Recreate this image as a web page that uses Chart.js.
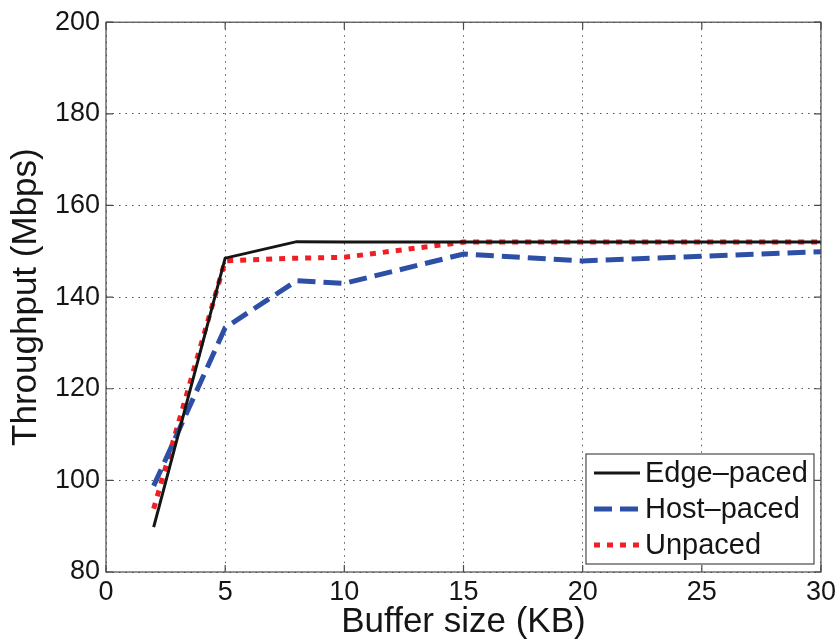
<!DOCTYPE html>
<html>
<head>
<meta charset="utf-8">
<script src="https://cdn.jsdelivr.net/npm/chart.js@4"></script>
<style>
  body { margin: 0; background: #fff; }
  #wrap { width: 840px; height: 642px; }
</style>
</head>
<body>
<div id="wrap"><canvas id="chart"></canvas></div>
<script>
// buffer sizes (KB)
const bufferSizes = [2, 5, 8, 10, 15, 20, 25, 30];
// throughput (Mbps)
const edgePaced = [89.8, 148.5, 152.1, 152, 152, 152, 152, 152];
const hostPaced = [98.8, 133.3, 143.6, 143.0, 149.4, 147.9, 148.9, 149.9];
const unpaced = [93.8, 147.9, 148.5, 148.7, 152, 152, 152, 152];

const seriesNames = ["Edge–paced", "Host–paced", "Unpaced"];
const xTicks = [0, 5, 10, 15, 20, 25, 30];
const yTicks = [80, 100, 120, 140, 160, 180, 200];

const FONT = "'Liberation Sans', Arial, Helvetica, sans-serif";

function toPoints(values) {
    return bufferSizes.map((x, i) => ({ x: x, y: values[i] }));
}

// box around the axes with inward tick marks (matlab style)
const framePlugin = {
    id: "frame",
    afterDatasetsDraw(chart) {
        const ctx = chart.ctx;
        const a = chart.chartArea;
        const xs = chart.scales.x;
        const ys = chart.scales.y;
        const len = 7;
        ctx.save();
        ctx.strokeStyle = "#4a4a4a";
        ctx.lineWidth = 1.2;
        ctx.setLineDash([]);
        ctx.strokeRect(a.left, a.top, a.right - a.left, a.bottom - a.top);
        ctx.beginPath();
        xTicks.forEach(t => {
            const px = xs.getPixelForValue(t);
            ctx.moveTo(px, a.bottom); ctx.lineTo(px, a.bottom - len);
            ctx.moveTo(px, a.top); ctx.lineTo(px, a.top + len);
        });
        yTicks.forEach(t => {
            const py = ys.getPixelForValue(t);
            ctx.moveTo(a.left, py); ctx.lineTo(a.left + len, py);
            ctx.moveTo(a.right, py); ctx.lineTo(a.right - len, py);
        });
        ctx.stroke();
        ctx.restore();
    }
};

// legend box in the lower right corner of the plot
const legendPlugin = {
    id: "boxLegend",
    afterDraw(chart) {
        const ctx = chart.ctx;
        const a = chart.chartArea;
        const w = 228, h = 110;
        const left = a.right - 7 - w;
        const top = a.bottom - 8 - h;
        ctx.save();
        ctx.fillStyle = "#fff";
        ctx.fillRect(left, top, w, h);
        ctx.strokeStyle = "#4a4a4a";
        ctx.lineWidth = 1.2;
        ctx.strokeRect(left, top, w, h);
        ctx.font = "29px " + FONT;
        ctx.textBaseline = "middle";
        ctx.fillStyle = "#151515";
        chart.data.datasets.forEach((ds, i) => {
            const y = top + 19 + i * 36;
            ctx.beginPath();
            ctx.strokeStyle = ds.borderColor;
            ctx.lineWidth = ds.borderWidth;
            ctx.setLineDash(ds.borderDash || []);
            ctx.moveTo(left + 8, y);
            ctx.lineTo(left + 54, y);
            ctx.stroke();
            ctx.setLineDash([]);
            ctx.fillText(ds.label, left + 59, y + 1);
        });
        ctx.restore();
    }
};

const ctx = document.getElementById("chart").getContext("2d");

new Chart(ctx, {
    type: "line",
    data: {
        datasets: [
            {
                label: seriesNames[0],
                data: toPoints(edgePaced),
                borderColor: "#151515",
                borderWidth: 3,
                pointRadius: 0,
                tension: 0
            },
            {
                label: seriesNames[1],
                data: toPoints(hostPaced),
                borderColor: "#2d4fa6",
                borderWidth: 5,
                borderDash: [18, 8],
                pointRadius: 0,
                tension: 0
            },
            {
                label: seriesNames[2],
                data: toPoints(unpaced),
                borderColor: "#ee2026",
                borderWidth: 5,
                borderDash: [6, 7],
                pointRadius: 0,
                tension: 0
            }
        ]
    },
    options: {
        responsive: true,
        maintainAspectRatio: false,
        animation: false,
        layout: { padding: { left: 0, right: 19, top: 20, bottom: 0 } },
        plugins: {
            legend: { display: false },
            tooltip: { enabled: false }
        },
        scales: {
            x: {
                type: "linear",
                min: 0,
                max: 30,
                afterFit(scale) { scale.height = 70; },
                afterBuildTicks(scale) { scale.ticks = xTicks.map(v => ({ value: v })); },
                ticks: {
                    autoSkip: false,
                    maxRotation: 0,
                    padding: 4,
                    color: "#151515",
                    font: { family: FONT, size: 27 }
                },
                grid: { color: "#555", lineWidth: 1, drawTicks: false },
                border: { display: false, dash: [1.5, 5] },
                title: {
                    display: true,
                    text: "Buffer size (KB)",
                    color: "#151515",
                    font: { family: FONT, size: 35, lineHeight: 1 },
                    padding: { top: 0, bottom: 2 }
                }
            },
            y: {
                min: 80,
                max: 200,
                afterFit(scale) { scale.width = 106; },
                afterBuildTicks(scale) { scale.ticks = yTicks.map(v => ({ value: v })); },
                ticks: {
                    padding: 6,
                    color: "#151515",
                    font: { family: FONT, size: 27 }
                },
                grid: { color: "#555", lineWidth: 1, drawTicks: false },
                border: { display: false, dash: [1.5, 5] },
                title: {
                    display: true,
                    text: "Throughput (Mbps)",
                    color: "#151515",
                    font: { family: FONT, size: 35, lineHeight: 1 },
                    padding: { top: 9, bottom: 0 }
                }
            }
        }
    },
    plugins: [framePlugin, legendPlugin]
});
</script>
</body>
</html>
